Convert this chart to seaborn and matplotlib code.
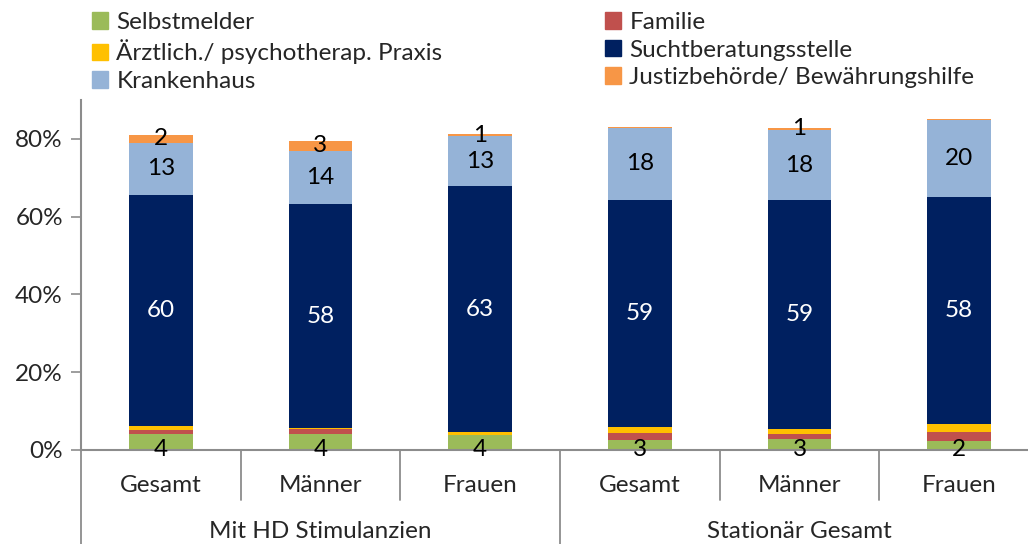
import pandas as pd
import matplotlib.pyplot as plt
import matplotlib.patches as mpatches
import matplotlib.transforms as mtransforms
import seaborn as sns

# Categories (bars) and groups
bar_keys = ["HD_Gesamt", "HD_Maenner", "HD_Frauen", "ST_Gesamt", "ST_Maenner", "ST_Frauen"]
bar_labels = ["Gesamt", "Männer", "Frauen", "Gesamt", "Männer", "Frauen"]
groups = ["Mit HD Stimulanzien", "Stationär Gesamt"]

# Series values in percent (stack order bottom -> top)
selbstmelder = [4.2, 4.1, 3.8, 2.7, 2.8, 2.4]
familie = [0.9, 1.2, 0.0, 1.6, 1.4, 2.2]
praxis = [1.0, 0.3, 0.85, 1.5, 1.2, 2.2]
suchtberatung = [59.6, 57.7, 63.2, 58.6, 58.8, 58.3]
krankenhaus = [13.3, 13.6, 12.8, 18.4, 18.1, 19.8]
justiz = [2.0, 2.6, 0.6, 0.3, 0.6, 0.2]

series_names = ["Selbstmelder", "Familie", "Ärztlich./ psychotherap. Praxis",
                "Suchtberatungsstelle", "Krankenhaus", "Justizbehörde/ Bewährungshilfe"]
series_vals = [selbstmelder, familie, praxis, suchtberatung, krankenhaus, justiz]
colors = ["#9BBB59", "#C0504D", "#FFC000", "#002060", "#95B3D7", "#F79646"]

FS = 17.5

sns.set_style("white")
plt.rcParams["font.family"] = ["Lato", "DejaVu Sans"]

# cumulative totals per layer
df = pd.DataFrame(dict(zip(series_names, series_vals)), index=bar_keys)
cum = df.cumsum(axis=1)

fig = plt.figure(figsize=(10.28, 5.44), dpi=100)
ax = fig.add_axes([81 / 1028, 94 / 544, 958 / 1028, 350 / 544])

# draw from the top layer down so lower layers cover the upper totals
for name, col in reversed(list(zip(series_names, colors))):
    d = pd.DataFrame({"bar": bar_keys, "val": cum[name].values})
    sns.barplot(data=d, x="bar", y="val", color=col, width=0.4,
                saturation=1, linewidth=0, ax=ax, order=bar_keys)

ax.set_xlim(-0.5, 5.5)
ax.set_ylim(0, 90)
ax.set_yticks([0, 20, 40, 60, 80])
ax.set_yticklabels([f"{v}%" for v in [0, 20, 40, 60, 80]], fontsize=FS)
ax.set_xticks([])
ax.set_xlabel("")
ax.set_ylabel("")
ax.tick_params(axis="y", length=7, width=1.2, color="#8c8c8c", pad=6, left=True)
for s in ["top", "right"]:
    ax.spines[s].set_visible(False)
for s in ["left", "bottom"]:
    ax.spines[s].set_color("#8c8c8c")
    ax.spines[s].set_linewidth(1.5)

# data labels
bottoms = cum.shift(1, axis=1).fillna(0)
for i, key in enumerate(bar_keys):
    ax.text(i, 0, f"{df.loc[key, 'Selbstmelder']:.0f}", ha="center", va="center",
            fontsize=FS, color="black")
    v = df.loc[key, "Suchtberatungsstelle"]
    ax.text(i, bottoms.loc[key, "Suchtberatungsstelle"] + v / 2, f"{v:.0f}",
            ha="center", va="center", fontsize=FS, color="white")
    v = df.loc[key, "Krankenhaus"]
    ax.text(i, bottoms.loc[key, "Krankenhaus"] + v / 2, f"{v:.0f}",
            ha="center", va="center", fontsize=FS, color="black")
    v = df.loc[key, "Justizbehörde/ Bewährungshilfe"]
    if v >= 0.5:
        ax.text(i, bottoms.loc[key, "Justizbehörde/ Bewährungshilfe"] + v / 2,
                f"{v:.0f}", ha="center", va="center", fontsize=FS, color="black")

# category axis with group separators
trans = mtransforms.blended_transform_factory(ax.transData, ax.transAxes)
for b in [-0.5, 0.5, 1.5, 2.5, 3.5, 4.5, 5.5]:
    low = -0.27 if b in (-0.5, 2.5, 5.5) else -0.143
    ax.plot([b, b], [0, low], transform=trans, color="#8c8c8c", lw=1.3, clip_on=False)
for i, lab in enumerate(bar_labels):
    ax.text(i, -0.1, lab, transform=trans, ha="center", va="center", fontsize=FS)
for g, lab in enumerate(groups):
    ax.text(1 + 3 * g, -0.234, lab, transform=trans, ha="center", va="center", fontsize=FS)

# legend in two columns, row-wise like the original
handles = [mpatches.Patch(color=c, label=n) for n, c in zip(series_names, colors)]
leg_kw = dict(frameon=False, fontsize=FS, handlelength=0.65, handleheight=0.65,
              handletextpad=0.35, labelspacing=0.27, borderaxespad=0, borderpad=0)
fig.legend(handles=handles[0::2], loc="upper left",
           bbox_to_anchor=(92 / 1028, 1 - 12 / 544), **leg_kw)
fig.legend(handles=handles[1::2], loc="upper left",
           bbox_to_anchor=(605 / 1028, 1 - 12 / 544), **leg_kw)

fig.savefig("out.png", dpi=100)
